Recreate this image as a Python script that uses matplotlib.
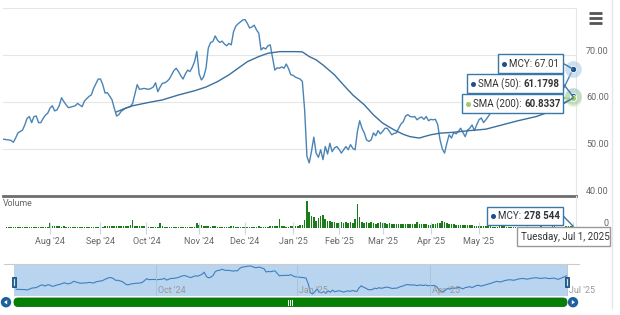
import matplotlib.pyplot as plt
import pandas as pd
from matplotlib.patches import Rectangle, FancyBboxPatch, Circle, Polygon
from matplotlib.transforms import ScaledTranslation, blended_transform_factory

plt.rcParams['font.family'] = ['Roboto', 'DejaVu Sans']

# trading sessions 1 Jul 2024 .. 1 Jul 2025 (exchange holidays removed)
holidays = ['2024-07-04', '2024-09-02', '2024-11-28', '2024-12-25', '2025-01-01',
            '2025-01-09', '2025-01-20', '2025-02-17', '2025-04-18', '2025-05-26', '2025-06-19']
sessions = pd.bdate_range('2024-07-01', '2025-07-01')
sessions = sessions[~sessions.isin(pd.to_datetime(holidays))]

# MCY close, keyed by session number (0 = 1 Jul 2024)
price_day = [1, 4, 5, 6, 7, 8, 10, 11, 12, 13, 14, 15, 16, 17, 18, 19, 20, 21, 22, 23,
             24, 25, 26, 27, 28, 29, 30, 31, 33, 34, 36, 37, 39, 40, 41, 43, 44, 45, 46, 47,
             49, 50, 51, 52, 53, 55, 57, 58, 60, 61, 63, 65, 66, 67, 68, 69, 70, 71, 72, 73,
             74, 75, 76, 77, 78, 79, 80, 81, 82, 83, 84, 85, 86, 87, 88, 89, 90, 91, 92, 93,
             94, 95, 96, 97, 98, 99, 100, 101, 102, 103, 104, 105, 106, 107, 108, 109, 110, 111, 112, 113,
             114, 115, 116, 117, 118, 119, 120, 121, 122, 123, 124, 125, 126, 127, 128, 129, 130, 131, 132, 133,
             134, 135, 136, 137, 138, 139, 140, 141, 142, 143, 144, 145, 146, 147, 148, 149, 150, 151, 152, 153,
             154, 155, 156, 157, 158, 159, 160, 161, 162, 163, 164, 165, 166, 167, 168, 169, 170, 171, 172, 173,
             174, 175, 176, 177, 178, 179, 180, 181, 182, 183, 184, 185, 186, 187, 188, 189, 190, 191, 192, 193,
             194, 195, 196, 197, 198, 199, 200, 201, 202, 203, 204, 205, 206, 207, 208, 209, 210, 211, 212, 213,
             214, 216, 218, 220, 222, 224, 226, 228, 230, 232, 234, 236, 238, 240, 242, 244, 246, 248, 249, 250]
price = [52.1, 51.9, 51.8, 51.4, 52.3, 53.4, 54.0, 55.1, 56.5, 56.9, 55.6, 56.9, 57.0, 55.6, 55.6, 56.5, 57.2, 57.6, 58.7, 59.2,
         58.1, 58.3, 59.2, 60.9, 60.1, 59.4, 58.8, 58.9, 59.2, 59.7, 59.0, 60.2, 61.2, 61.5, 62.9, 64.9, 64.9, 63.7, 61.9, 62.0,
         60.5, 58.7, 57.0, 57.3, 58.0, 58.7, 59.0, 59.7, 63.7, 62.7, 62.9, 62.7, 62.9, 63.2, 64.1, 62.2, 63.2, 64.0, 64.1, 64.4,
         64.9, 65.8, 66.7, 67.2, 66.5, 65.6, 64.9, 66.0, 66.8, 66.5, 67.4, 68.6, 70.8, 66.0, 64.7, 65.4, 67.2, 71.5, 72.7, 72.9,
         74.1, 73.2, 72.7, 73.0, 72.4, 72.0, 72.5, 72.2, 75.0, 76.2, 76.7, 77.1, 77.5, 77.6, 76.8, 75.8, 76.0, 76.4, 75.4, 74.7,
         71.1, 71.6, 71.3, 72.0, 72.2, 69.5, 66.8, 67.3, 67.2, 67.5, 67.2, 68.1, 67.1, 65.8, 65.7, 65.3, 65.1, 64.9, 64.4, 58.3,
         48.4, 47.0, 49.5, 52.5, 49.1, 48.2, 49.8, 47.7, 50.5, 48.9, 51.2, 49.4, 50.2, 50.5, 49.9, 49.1, 49.8, 50.5, 49.8, 50.9,
         50.1, 49.8, 53.7, 56.0, 54.4, 53.4, 51.9, 51.6, 51.9, 53.4, 52.8, 53.9, 53.2, 53.7, 54.4, 54.4, 53.7, 53.0, 53.3, 53.4,
         54.4, 55.3, 55.8, 57.0, 57.3, 56.9, 56.8, 56.9, 56.2, 56.6, 56.8, 56.3, 56.9, 56.0, 56.3, 56.2, 56.3, 55.2, 52.0, 50.0,
         49.1, 51.2, 53.0, 52.3, 53.5, 53.2, 53.7, 54.4, 53.5, 52.6, 54.0, 54.4, 55.1, 53.9, 55.1, 56.2, 56.6, 55.6, 56.2, 56.9,
         57.6, 59.0, 60.8, 60.2, 61.8, 62.6, 62.0, 63.4, 64.0, 63.2, 64.3, 64.8, 64.0, 64.6, 63.8, 64.4, 63.0, 65.0, 66.0, 67.01]

sma50_day = [51, 55, 58, 65, 71, 78, 85, 90, 95, 100, 104, 108, 113, 117, 122, 129, 132, 135, 138, 141,
             146, 150, 154, 159, 163, 167, 172, 176, 179, 183, 185, 188, 192, 197, 205, 212, 219, 226, 234, 238,
             244, 250]
sma50 = [57.9, 58.7, 59.2, 59.9, 60.45, 61.5, 62.4, 63.2, 64.35, 65.8, 67.2, 68.6, 69.7, 70.4, 70.75, 70.75, 70.7, 69.7, 69.0, 67.9,
         65.8, 63.6, 61.5, 59.4, 57.25, 55.5, 54.05, 53.1, 52.6, 52.3, 52.6, 53.0, 53.35, 53.5, 53.9, 54.2, 55.1, 56.0, 56.9, 57.6,
         59.0, 61.1798]

sma200_day = [203, 210, 220, 230, 240, 250]
sma200 = [61.3, 61.2, 61.0, 60.9, 60.8, 60.8337]

# daily volume in thousands of shares, one value per session
volume_k = [
    # Jul '24
    120, 110, 90, 130, 100, 140, 120, 110, 150, 130, 160, 120, 140, 130, 110, 150, 170, 140, 130, 160, 180, 200,
    # Aug
    650, 300, 260, 240, 250, 220, 240, 200, 180, 150, 170, 160, 140, 150, 130, 140, 160, 180, 150, 170, 200, 190,
    # Sep
    200, 220, 260, 240, 300, 280, 250, 270, 330, 290, 260, 280, 300, 350, 1000, 320, 300, 280, 260, 250,
    # Oct
    220, 200, 180, 170, 190, 200, 600, 250, 200, 180, 160, 150, 170, 160, 150, 140, 160, 170, 150, 180, 200, 190, 650,
    # Nov
    400, 350, 300, 260, 240, 220, 250, 230, 210, 200, 190, 220, 210, 200, 230, 250, 220, 210, 190, 170,
    # Dec
    200, 210, 190, 180, 200, 220, 230, 210, 200, 190, 220, 250, 240, 230, 250, 1200, 300, 250, 200, 180, 260,
    # Jan '25
    250, 280, 300, 350, 400, 1000, 3400, 2050, 1530, 1330, 930, 1250, 1530, 1600, 1130, 850, 930, 720, 720, 640,
    # Feb
    640, 720, 640, 720, 640, 770, 640, 1130, 3000, 1330, 800, 640, 720, 600, 720, 600, 520, 640, 720,
    # Mar
    600, 650, 550, 600, 520, 500, 560, 580, 520, 500, 480, 500, 560, 520, 480, 820, 500, 540, 500, 480, 460,
    # Apr
    450, 480, 520, 600, 700, 850, 750, 650, 560, 500, 480, 460, 420, 400, 380, 400, 420, 380, 350, 330, 300,
    # May
    300, 280, 260, 240, 250, 230, 220, 200, 210, 230, 250, 240, 220, 200, 210, 190, 200, 220, 210, 200, 190,
    # Jun
    200, 210, 190, 180, 200, 220, 230, 210, 200, 190, 220, 250, 230, 210, 200, 190, 210, 230, 250, 300,
    # Jul 1
    278.544,
]

W, H = 620, 315
fig = plt.figure(figsize=(W / 100, H / 100), dpi=100)


def rect(x0, y0, x1, y1):
    return [x0 / W, 1 - y1 / H, (x1 - x0) / W, (y1 - y0) / H]


month_first = [i for i in range(1, len(sessions)) if sessions[i].month != sessions[i - 1].month]
grey = '#666666'

# ---- price pane
ax = fig.add_axes(rect(3, 8.3, 576, 195.7))
ax.plot(price_day, price, color='#4a84b5', lw=1.0)
ax.plot(sma50_day, sma50, color='#3b6f9c', lw=1.0)
ax.plot(sma200_day, sma200, color='#8bbc21', lw=1.0)
ax.set_xlim(1.5, 251.3)
ax.set_ylim(40, 80)
ax.set_xticks([])
ax.set_yticks([40, 50, 60, 70, 80])
ax.set_yticklabels(['40.00', '50.00', '60.00', '70.00', ''])
ax.grid(axis='y', color='#e6e6e6', lw=0.8)
ax.set_axisbelow(True)
for s in ['top', 'left']:
    ax.spines[s].set_visible(False)
ax.spines['right'].set_color('#e6e6e6')
ax.spines['bottom'].set_color('#6d6d6d')
ax.spines['bottom'].set_linewidth(2)
ax.tick_params(axis='y', left=False, right=False, labelleft=False, labelright=True,
               pad=20.2, labelsize=6.5, labelcolor=grey)
for lab in ax.get_yticklabels():
    lab.set_ha('right')
    lab.set_va('baseline')
    lab.set_transform(lab.get_transform() + ScaledTranslation(0, 1.5 / 100, fig.dpi_scale_trans))

# markers at the last point
for yv, c, halo in [(67.01, '#1f4e8c', '#9cc3e6'), (61.1798, '#1f4e8c', '#7fb3c8'), (60.8337, '#a3c96b', '#c9e29f')]:
    ax.plot(250, yv, 'o', ms=12, color=halo, alpha=0.5, mec='none', clip_on=False, zorder=4)
    ax.plot(250, yv, 'o', ms=4.5, color=c, mec='white', mew=0.6, clip_on=False, zorder=5)

# ---- volume pane
axv = fig.add_axes(rect(3, 195.7, 576, 228.3))
axv.bar(range(len(volume_k)), [v * 1000 for v in volume_k], width=0.7, color='#1a7d1a')
axv.set_xlim(ax.get_xlim())
axv.set_ylim(0, 4.0e6)
axv.set_yticks([0])
axv.set_yticklabels(['0'])
axv.patch.set_alpha(0)
for s in ['top', 'left', 'bottom']:
    axv.spines[s].set_visible(False)
axv.spines['right'].set_color('#e6e6e6')
axv.tick_params(axis='y', left=False, right=False, labelleft=False, labelright=True,
                pad=20.2, labelsize=6.5, labelcolor=grey)
for lab in axv.get_yticklabels():
    lab.set_ha('right')
    lab.set_va('baseline')
    lab.set_transform(lab.get_transform() + ScaledTranslation(0, 2 / 100, fig.dpi_scale_trans))
axv.set_xticks(month_first)
# the Jun/Jul labels sit under the date box in the reference, so they stay blank
axv.set_xticklabels([sessions[i].strftime("%b '%y") if i < 225 else '' for i in month_first])
axv.tick_params(axis='x', direction='inout', length=9, width=0.8, color='#ccd6eb',
                pad=2, labelsize=6.5, labelcolor=grey)

# ---- navigator
axn = fig.add_axes(rect(4, 264, 579, 296))
axn.axvspan(0, 250, color='#b8d4ee', lw=0)
axn.plot(price_day, price, color='#3f7fbf', lw=0.8)
axn.set_xlim(-4.5, 255.4)
axn.set_ylim(44.8, 79.8)
axn.set_xticks([])
axn.set_yticks([])
for s in ['left', 'right', 'bottom']:
    axn.spines[s].set_visible(False)
axn.spines['top'].set_color('#cccccc')
tr = blended_transform_factory(axn.transData, axn.transAxes) + ScaledTranslation(2 / 100, 0, fig.dpi_scale_trans)
for i in month_first:
    if sessions[i].month in (1, 4, 7, 10):
        axn.axvline(i, color='#a9c0d6', lw=0.6)
        axn.text(i, 0.16, sessions[i].strftime("%b '%y"), transform=tr, fontsize=6.5,
                 color='#999999', va='center', ha='left', clip_on=False)

# ---- overlay in pixel units for tooltips, scrollbar, menu
ov = fig.add_axes([0, 0, 1, 1], zorder=10)
ov.set_xlim(0, W)
ov.set_ylim(H, 0)
ov.axis('off')
ov.patch.set_alpha(0)
renderer = fig.canvas.get_renderer()


def px(axis, x, y):
    dx, dy = axis.transData.transform((x, y))
    return dx, H - dy


def tooltip(x0, y0, x1, y1, parts, dot=None, edge='#3a78a8', target=None, pad=6.5):
    ov.add_patch(Rectangle((x0, y0), x1 - x0, y1 - y0, fc='white', ec=edge, lw=1, zorder=5))
    yc = (y0 + y1) / 2
    x = x0 + pad
    if dot:
        ov.plot(x, yc, 'o', ms=2.6, color=dot, zorder=6)
        x += 5
    for s, w in parts:
        t = ov.text(x, yc + 0.3, s, fontsize=7, fontweight=w, color='#333333',
                    va='center', ha='left', zorder=6)
        x += t.get_window_extent(renderer).width
    if target:
        ov.plot([x1, target[0]], [yc, target[1]], color=edge, lw=1, zorder=4)


tooltip(497.7, 54.3, 563.3, 72.7, [('MCY: 67.01', 'normal')], dot='#1f4e8c',
        target=px(ax, 250, 67.01))
tooltip(466.7, 74.3, 563.3, 93.3, [('SMA (50): ', 'normal'), ('61.1798', 'bold')], dot='#1f4e8c',
        target=px(ax, 250, 61.1798))
tooltip(461.7, 94.3, 563.3, 113.3, [('SMA (200): ', 'normal'), ('60.8337', 'bold')], dot='#a3c96b',
        target=px(ax, 250, 60.8337))
tooltip(486.7, 207.3, 563.3, 225, [('MCY: ', 'normal'), ('278 544', 'bold')], dot='#1f4e8c',
        target=px(axv, 250, 278544))
tooltip(516.7, 227.3, 610, 246, [('Tuesday, Jul 1, 2025', 'normal')], edge='#999999', pad=4.5)

ov.text(3, 203, 'Volume', fontsize=6.3, color=grey, va='center', ha='left')

# menu icon
for yy in (13.3, 18.3, 22.7):
    ov.plot([589, 602], [yy, yy], color='#555555', lw=2, solid_capstyle='butt')

# container edge
ov.plot([612, 612], [0, 308], color='#e6e6e6', lw=1)

# scrollbar
ov.add_patch(FancyBboxPatch((14, 298), 553, 8.5, boxstyle='round,pad=0,rounding_size=4',
                            fc='#058005', ec='#0a6e0a', lw=0.6))
for gx in (287.5, 289.5, 291.5):
    ov.plot([gx, gx], [300, 304.5], color='white', lw=0.7)
for cx, d in [(6, -1), (573, 1)]:
    ov.add_patch(Circle((cx, 302.2), 5.2, fc='#1f5fa0', ec='none'))
    ov.add_patch(Polygon([(cx + 2 * d, 302.2), (cx - 1.2 * d, 300), (cx - 1.2 * d, 304.4)], fc='white', ec='none'))

# navigator handles
for hx in (14, 567):
    ov.add_patch(Rectangle((hx - 2.3, 277), 4.6, 10, fc='#2d6aa0', ec='#1a4a75', lw=0.6))
    ov.plot([hx, hx], [279, 285], color='white', lw=0.6)

fig.savefig('out.png', dpi=100)
